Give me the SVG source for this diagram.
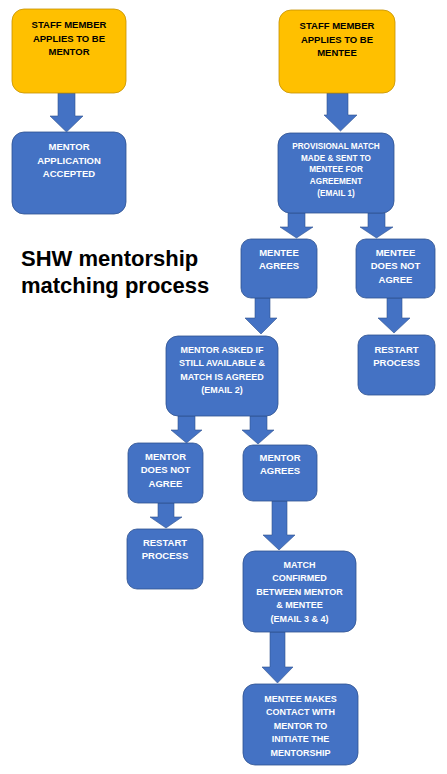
<svg xmlns="http://www.w3.org/2000/svg" width="447" height="774" viewBox="0 0 447 774">
<style>
.y{fill:#FFC000;stroke:#C49000;stroke-width:0.8}
.b{fill:#4472C4;stroke:#2F528F;stroke-width:0.8}
.a{fill:#4472C4;stroke:#2F528F;stroke-width:0.6}
text{font-family:"Liberation Sans",Arial,sans-serif;font-weight:bold;text-anchor:middle}
.tk{fill:#000;font-size:9.5px}
.tw{fill:#fff;font-size:9.5px}
.ts{fill:#fff;font-size:9px}
.tx{fill:#fff;font-size:8.2px}
.title{font-size:22px;text-anchor:start;fill:#000}
</style>
<rect width="447" height="774" fill="#fff"/>
<g id="connectors">
<polygon class="a" points="58,93 75,93 75,116 83,116 66.5,132 50,116 58,116"/>
<polygon class="a" points="327,93 348,93 348,115 357,115 340.5,131 324,115 327,115"/>
<polygon class="a" points="288,213 305,213 305,227 313,227 296.5,238 280,227 288,227"/>
<polygon class="a" points="368,213 385,213 385,227 393,227 376.5,238 360,227 368,227"/>
<polygon class="a" points="255,298 270,298 270,318 277,318 261,334 245,318 255,318"/>
<polygon class="a" points="387,298 402,298 402,318 410,318 394,333 378,318 387,318"/>
<polygon class="a" points="178,416 195,416 195,430 202,430 186.5,443 171,430 178,430"/>
<polygon class="a" points="250,416 267,416 267,430 274,430 258,444 242,430 250,430"/>
<polygon class="a" points="158,503 174,503 174,517 182,517 166,528 150,517 158,517"/>
<polygon class="a" points="272,501 287,501 287,535 295,535 279,550 263,535 272,535"/>
<polygon class="a" points="270,632 285,632 285,667 293,667 277.5,683 262,667 270,667"/>
</g>
<g id="n1"><rect class="y" x="12" y="9" width="114" height="84" rx="12"/>
<text class="tk" x="69" y="28">STAFF MEMBER</text><text class="tk" x="69" y="41.5">APPLIES TO BE</text><text class="tk" x="69" y="55">MENTOR</text></g>
<g id="n2"><rect class="b" x="12" y="132" width="114" height="82" rx="12"/>
<text class="tw" x="69" y="150">MENTOR</text><text class="tw" x="69" y="163.5">APPLICATION</text><text class="tw" x="69" y="177">ACCEPTED</text></g>
<g id="n3"><rect class="y" x="279" y="10" width="116" height="83" rx="12"/>
<text class="tk" x="337" y="29">STAFF MEMBER</text><text class="tk" x="337" y="42.5">APPLIES TO BE</text><text class="tk" x="337" y="56">MENTEE</text></g>
<g id="n4"><rect class="b" x="278" y="133" width="116" height="80" rx="12"/>
<text class="tx" x="336" y="149">PROVISIONAL MATCH</text><text class="tx" x="336" y="160.5">MADE &amp; SENT TO</text><text class="tx" x="336" y="172">MENTEE FOR</text><text class="tx" x="336" y="184">AGREEMENT</text><text class="tx" x="336" y="195.5">(EMAIL 1)</text></g>
<g id="n5"><rect class="b" x="241" y="239" width="76" height="59" rx="10"/>
<text class="tw" x="279" y="255.5">MENTEE</text><text class="tw" x="279" y="269">AGREES</text></g>
<g id="n6"><rect class="b" x="356" y="239" width="79" height="59" rx="10"/>
<text class="tw" x="395.5" y="255.5">MENTEE</text><text class="tw" x="395.5" y="269">DOES NOT</text><text class="tw" x="395.5" y="282.5">AGREE</text></g>
<g id="title"><text class="title" x="21" y="266">SHW mentorship</text><text class="title" x="21" y="293">matching process</text></g>
<g id="n7"><rect class="b" x="166" y="336" width="112" height="80" rx="12"/>
<text class="ts" x="222" y="352.5">MENTOR ASKED IF</text><text class="ts" x="222" y="366">STILL AVAILABLE &amp;</text><text class="ts" x="222" y="379.5">MATCH IS AGREED</text><text class="ts" x="222" y="393">(EMAIL 2)</text></g>
<g id="n8"><rect class="b" x="358" y="335" width="77" height="60" rx="10"/>
<text class="tw" x="396.5" y="352.5">RESTART</text><text class="tw" x="396.5" y="366">PROCESS</text></g>
<g id="n9"><rect class="b" x="128" y="443" width="75" height="60" rx="10"/>
<text class="tw" x="165.5" y="459.5">MENTOR</text><text class="tw" x="165.5" y="473">DOES NOT</text><text class="tw" x="165.5" y="486.5">AGREE</text></g>
<g id="n10"><rect class="b" x="243" y="445" width="74" height="56" rx="10"/>
<text class="tw" x="280" y="460.5">MENTOR</text><text class="tw" x="280" y="474">AGREES</text></g>
<g id="n11"><rect class="b" x="127" y="529" width="76" height="60" rx="10"/>
<text class="tw" x="165" y="545.5">RESTART</text><text class="tw" x="165" y="559">PROCESS</text></g>
<g id="n12"><rect class="b" x="243" y="551" width="113" height="81" rx="12"/>
<text class="ts" x="299.5" y="567.5">MATCH</text><text class="ts" x="299.5" y="581">CONFIRMED</text><text class="ts" x="299.5" y="594.5">BETWEEN MENTOR</text><text class="ts" x="299.5" y="608">&amp; MENTEE</text><text class="ts" x="299.5" y="621.5">(EMAIL 3 &amp; 4)</text></g>
<g id="n13"><rect class="b" x="243" y="684" width="115" height="81" rx="12"/>
<text class="ts" x="300.5" y="701.5">MENTEE MAKES</text><text class="ts" x="300.5" y="715">CONTACT WITH</text><text class="ts" x="300.5" y="728.5">MENTOR TO</text><text class="ts" x="300.5" y="742">INITIATE THE</text><text class="ts" x="300.5" y="755.5">MENTORSHIP</text></g>
</svg>
